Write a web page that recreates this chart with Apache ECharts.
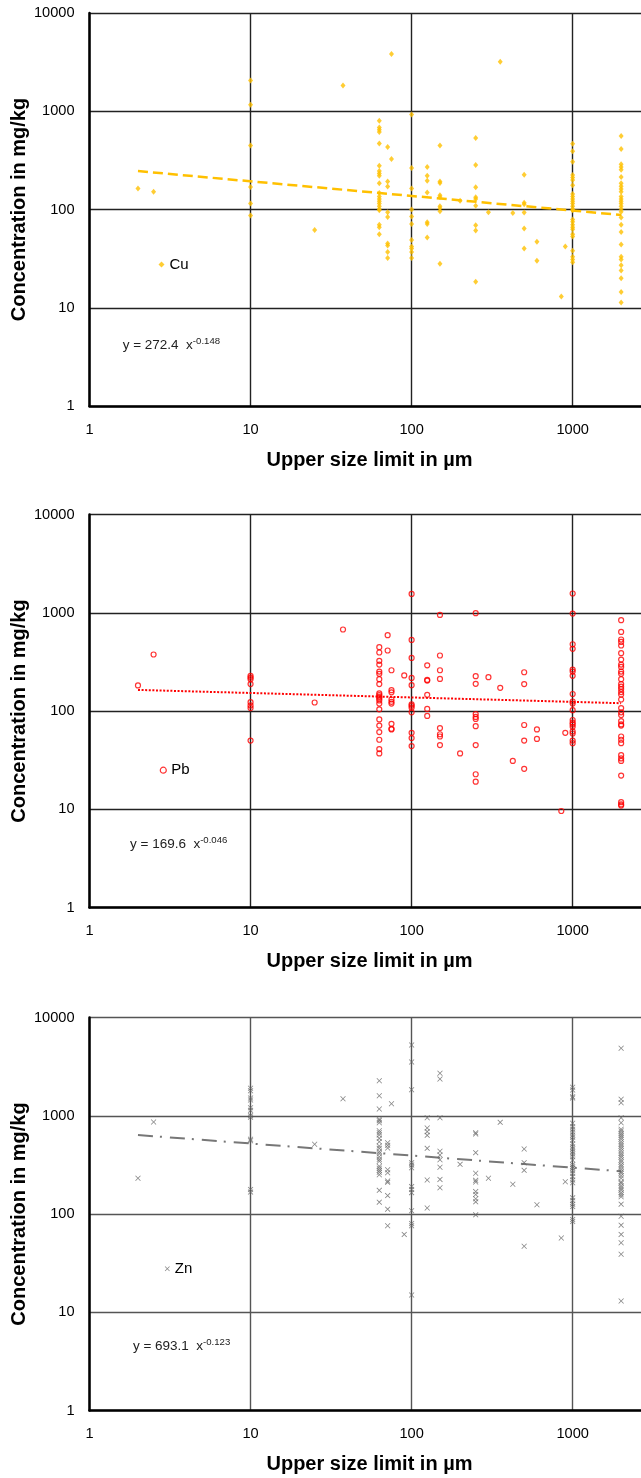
<!DOCTYPE html>
<html>
<head>
<meta charset="utf-8">
<title>Concentration vs upper size limit</title>
<script src="https://cdn.jsdelivr.net/npm/echarts/dist/echarts.min.js"></script>
<style>
    html, body { margin: 0; padding: 0; background: #fff; }
    #chart { width: 641px; height: 1478px; }
</style>
</head>
<body>
<div id="chart"></div>
<script>
var cuColumns = [
    [2, [164]],
    [2.5, [152]],
    [10, [2060, 1166, 449, 169, 115, 87]],
    [25, [62]],
    [37.5, [1833]],
    [63, [801, 685, 649, 615, 471, 279, 246, 233, 221, 185, 147, 136, 128, 121, 115, 108, 101, 98, 70, 66, 56]],
    [71, [433, 193, 171, 94, 84, 45, 43, 37, 32]],
    [75, [3828, 327]],
    [100, [929, 264, 164, 100, 85, 71, 49, 42, 40, 37, 32]],
    [125, [271, 221, 196, 149, 74, 71, 52]],
    [150, [449, 193, 186, 140, 134, 108, 103, 96, 28]],
    [200, [123]],
    [250, [534, 284, 168, 133, 128, 109, 69, 61, 18.4]],
    [300, [94]],
    [355, [3195]],
    [425, [92]],
    [500, [226, 117, 113, 93, 64, 40]],
    [600, [47, 30]],
    [850, [13]],
    [900, [42]],
    [1000, [468, 391, 307, 224, 212, 200, 177, 144, 136, 128, 121, 115, 108, 101, 98, 79, 75, 70, 66, 63, 56, 53, 38, 33, 31, 29]],
    [2000, [560, 413, 288, 271, 254, 214, 185, 172, 162, 152, 136, 128, 121, 115, 108, 101, 95, 83, 70, 59, 44, 33, 31, 27, 24, 20, 14.5, 11.3]]
];
var pbColumns = [
    [2, [182]],
    [2.5, [376]],
    [10, [228, 219, 211, 188, 123, 114, 107, 50]],
    [25, [122]],
    [37.5, [675]],
    [63, [446, 394, 324, 297, 252, 239, 211, 188, 151, 145, 139, 134, 128, 119, 104, 82, 71, 61, 51, 41, 37]],
    [71, [591, 413]],
    [75, [260, 163, 155, 131, 124, 119, 74, 66, 65]],
    [90, [230]],
    [100, [1556, 529, 347, 217, 183, 117, 113, 108, 97, 60, 53, 44]],
    [125, [292, 207, 204, 146, 105, 89]],
    [150, [951, 367, 260, 212, 67, 58, 55, 45]],
    [200, [37]],
    [250, [989, 226, 189, 93, 87, 83, 70, 45, 22.7, 19.1]],
    [300, [221]],
    [355, [172]],
    [425, [31]],
    [500, [248, 188, 72, 50, 25.8]],
    [600, [65, 52]],
    [850, [9.6]],
    [900, [60]],
    [1000, [1570, 982, 478, 429, 264, 252, 228, 149, 125, 119, 102, 81, 76, 73, 69, 62, 59, 50, 47]],
    [2000, [840, 638, 534, 505, 464, 388, 334, 297, 281, 252, 239, 211, 188, 177, 167, 156, 147, 131, 107, 97, 91, 79, 73, 71, 55, 51, 47, 35.5, 32.9, 31, 22, 11.8, 11.2, 10.9]]
];
var znColumns = [
    [2, [231]],
    [2.5, [864]],
    [10, [1903, 1799, 1516, 1446, 1208, 1135, 1002, 964, 576, 557, 178, 167]],
    [25, [512]],
    [37.5, [1492]],
    [63, [2275, 1600, 1172, 920, 892, 850, 704, 672, 637, 589, 544, 492, 466, 431, 411, 383, 360, 344, 306, 292, 278, 266, 251, 174, 132]],
    [71, [532, 500, 470, 282, 263, 217, 210, 154, 112, 76]],
    [75, [1327]],
    [90, [62]],
    [100, [5250, 3525, 1842, 333, 315, 296, 190, 178, 165, 108, 80, 76, 15]],
    [125, [955, 750, 689, 632, 466, 222, 115]],
    [150, [2704, 2367, 955, 435, 399, 357, 299, 225, 185]],
    [200, [320]],
    [250, [672, 652, 421, 260, 220, 212, 169, 158, 143, 133, 98]],
    [300, [231]],
    [355, [857]],
    [425, [201]],
    [500, [459, 333, 278, 47]],
    [600, [124]],
    [850, [57]],
    [900, [213]],
    [1000, [1950, 1829, 1563, 1516, 838, 774, 728, 684, 637, 604, 566, 516, 484, 459, 431, 408, 383, 354, 318, 303, 292, 276, 260, 240, 222, 208, 146, 137, 126, 119, 88, 84]],
    [2000, [4857, 1470, 1358, 955, 850, 728, 700, 662, 632, 604, 576, 544, 516, 492, 466, 441, 415, 396, 377, 354, 338, 318, 303, 285, 270, 260, 245, 231, 213, 205, 193, 184, 176, 165, 157, 150, 126, 95, 77, 62, 51, 39, 13]]
];

// power-law trend lines, end points at x = 2 and x = 2000
var cuTrend = [[2, 246], [2000, 88]];
var pbTrend = [[2, 164], [2000, 120]];
var znTrend = [[2, 636], [2000, 272]];

var metals = ['Cu', 'Pb', 'Zn'];
var equations = ['y = 272.4  x', 'y = 169.6  x', 'y = 693.1  x'];
var exponents = ['-0.148', '-0.046', '-0.123'];

var FONT = '"Liberation Sans", Arial, Helvetica, sans-serif';
var crossPath = 'path://M0,1L1,0L5,4L9,0L10,1L6,5L10,9L9,10L5,6L1,10L0,9L4,5Z';

function flatten(columns) {
    var res = [];
    for (var i = 0; i < columns.length; i++) {
        for (var j = 0; j < columns[i][1].length; j++) {
            res.push([columns[i][0], columns[i][1][j]]);
        }
    }
    return res;
}

/* only label the decades, no thousands separator */
function decadeLabel(v) {
    var e = Math.log(v) / Math.LN10;
    return Math.abs(e - Math.round(e)) < 1e-6 ? String(Math.round(v)) : '';
}

var panelTops = [13, 514.5, 1017.5];
var gridColors = ['#222', '#222', '#555'];
var markStyles = [
    {symbol: 'diamond', size: [5, 6], itemStyle: {color: '#FFC000'}},
    {symbol: 'circle', size: 5, itemStyle: {color: 'rgba(0,0,0,0)', borderColor: '#FF0000', borderWidth: 1.2}},
    {symbol: crossPath, size: 5.5, itemStyle: {color: '#666'}}
];
var trendStyles = [
    {color: '#FFC000', width: 2.5, type: [10, 5]},
    {color: '#FF0000', width: 2, type: [2, 1.6]},
    {color: '#777', width: 2, type: [15, 7, 2, 8]}
];
var legendPos = [[158.5, 257], [159.7, 762.7], [164.8, 1261.3]];
var eqPos = [[122.7, 336.7], [130, 835.3], [132.9, 1337.7]];
var pointSets = [flatten(cuColumns), flatten(pbColumns), flatten(znColumns)];
var trends = [cuTrend, pbTrend, znTrend];

var grids = [], xAxes = [], yAxes = [], series = [], legends = [], graphics = [];

for (var i = 0; i < 3; i++) {
    grids.push({left: 89.5, top: panelTops[i], width: 560, height: 393, outerBoundsMode: 'none', containLabel: false});
    xAxes.push({
        type: 'log', logBase: 10, min: 1, max: 3000, gridIndex: i,
        name: 'Upper size limit in µm',
        nameLocation: 'middle',
        nameGap: 44,
        nameMoveOverlap: false,
        nameTextStyle: {fontFamily: FONT, fontSize: 20, fontWeight: 'bold', color: '#000'},
        axisLine: {show: true, lineStyle: {color: '#000', width: 2.5}},
        axisTick: {show: false},
        splitLine: {show: true, lineStyle: {color: gridColors[i], width: 1.4}},
        axisLabel: {margin: 16, fontFamily: FONT, fontSize: 14.6, color: '#000', formatter: decadeLabel}
    });
    yAxes.push({
        type: 'log', logBase: 10, min: 1, max: 10000, gridIndex: i,
        name: 'Concentration in mg/kg',
        nameLocation: 'middle',
        nameGap: 60,
        nameMoveOverlap: false,
        nameTextStyle: {fontFamily: FONT, fontSize: 20, fontWeight: 'bold', color: '#000'},
        axisLine: {show: true, lineStyle: {color: '#000', width: 2.5}},
        axisTick: {show: false},
        splitLine: {show: true, lineStyle: {color: gridColors[i], width: 1.4}},
        axisLabel: {margin: 15, fontFamily: FONT, fontSize: 14.6, color: '#000', formatter: decadeLabel}
    });
    series.push({
        name: metals[i],
        type: 'scatter',
        xAxisIndex: i, yAxisIndex: i,
        symbol: markStyles[i].symbol,
        symbolSize: markStyles[i].size,
        itemStyle: markStyles[i].itemStyle,
        data: pointSets[i],
        z: 3
    });
    series.push({
        name: metals[i] + ' trend',
        type: 'line',
        xAxisIndex: i, yAxisIndex: i,
        showSymbol: false,
        symbol: 'none',
        lineStyle: trendStyles[i],
        data: trends[i],
        silent: true,
        z: 2
    });
    legends.push({
        left: legendPos[i][0], top: legendPos[i][1],
        padding: 0,
        itemWidth: i === 2 ? 5 : 6,
        itemHeight: i === 2 ? 5 : 6,
        textStyle: {fontFamily: FONT, fontSize: 15, color: '#000'},
        data: [{name: metals[i], icon: markStyles[i].symbol, itemStyle: markStyles[i].itemStyle}]
    });
    graphics.push({
        type: 'text',
        left: eqPos[i][0], top: eqPos[i][1],
        style: {
            text: '{m|' + equations[i] + '}{s|' + exponents[i] + '}',
            rich: {
                m: {fontFamily: FONT, fontSize: 13.5, fill: '#222', lineHeight: 18},
                s: {fontFamily: FONT, fontSize: 9.6, fill: '#222', lineHeight: 10, verticalAlign: 'top'}
            }
        }
    });
}

var chart = echarts.init(document.getElementById('chart'), null, {renderer: 'canvas'});
chart.setOption({
    animation: false,
    backgroundColor: '#fff',
    grid: grids,
    xAxis: xAxes,
    yAxis: yAxes,
    legend: legends,
    graphic: graphics,
    series: series
});
</script>
</body>
</html>
